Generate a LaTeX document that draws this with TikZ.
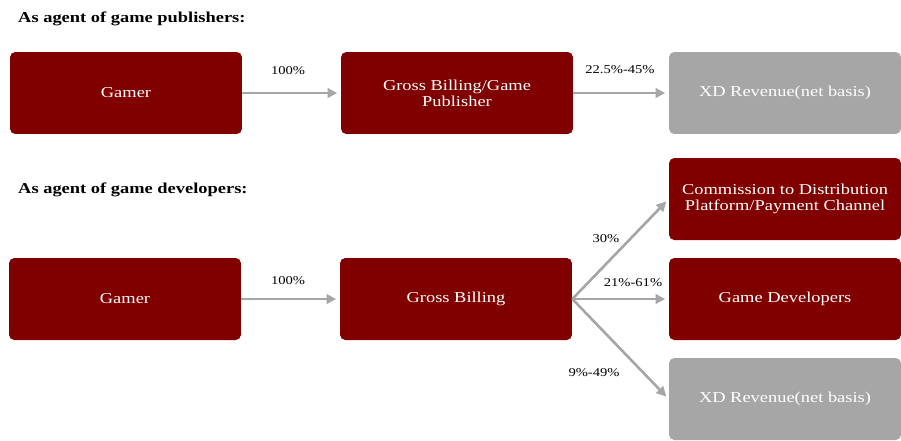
\documentclass[tikz,border=0pt]{standalone}
\usepackage{fontspec}
\setmainfont{Liberation Serif}[FakeStretch=1.22]
\usepackage{tikz}
\usetikzlibrary{positioning, arrows.meta, calc}
\definecolor{maroonbox}{HTML}{800000}
\definecolor{greybox}{HTML}{A6A6A6}

\begin{document}
\begin{tikzpicture}[
        x=0.02cm, y=-0.02cm,
        entity/.style={rectangle, rounded corners=3pt, fill=maroonbox, text=white, minimum width=4.64cm, minimum height=1.64cm, inner sep=1pt, align=center, font=\fontsize{8.6}{9.2}\selectfont},
        revenue/.style={entity, fill=greybox},
        flow/.style={draw=greybox, line width=1.5pt, shorten >=2pt, -{Triangle[length=5.5pt,width=5.5pt]}},
        share/.style={font=\fontsize{6.8}{7.5}\selectfont},
        heading/.style={anchor=west, font=\fontsize{8.6}{9.2}\selectfont\bfseries}
    ]
    \useasboundingbox (0,0) rectangle (901,440);

    % publishers
    \node[heading] (headA) at (12,19) {As agent of game publishers:};
    \node[entity] (gamerA) at (126,93) {Gamer};
    \node[entity] (billingA) at (457,93) {Gross Billing/Game\\Publisher};
    \node[revenue] (revenueA) at (785,93) {XD Revenue(net basis)};

    \draw[flow] (gamerA) -- (billingA);
    \draw[flow] (billingA) -- (revenueA);
    \node[share] (shareA) at (288,71) {100\%};
    \node[share] (shareB) at (620,70) {22.5\%-45\%};

    % developers
    \node[heading] (headB) at (12,190) {As agent of game developers:};
    \node[entity] (gamerB) at (125,299) {Gamer};
    \node[entity] (billingB) at (456,299) {Gross Billing};
    \node[entity] (commission) at (785,199) {Commission to Distribution\\Platform/Payment Channel};
    \node[entity] (developers) at (785,299) {Game Developers};
    \node[revenue] (revenueB) at (785,399) {XD Revenue(net basis)};

    \draw[flow] (gamerB) -- (billingB);
    \draw[flow] (billingB.east) -- (commission.west);
    \draw[flow] (billingB.east) -- (developers.west);
    \draw[flow] (billingB.east) -- (revenueB.west);
    \node[share] (shareC) at (288,281) {100\%};
    \node[share] (shareD) at (606,239) {30\%};
    \node[share] (shareE) at (633,283) {21\%-61\%};
    \node[share] (shareF) at (594,373) {9\%-49\%};
\end{tikzpicture}
\end{document}
